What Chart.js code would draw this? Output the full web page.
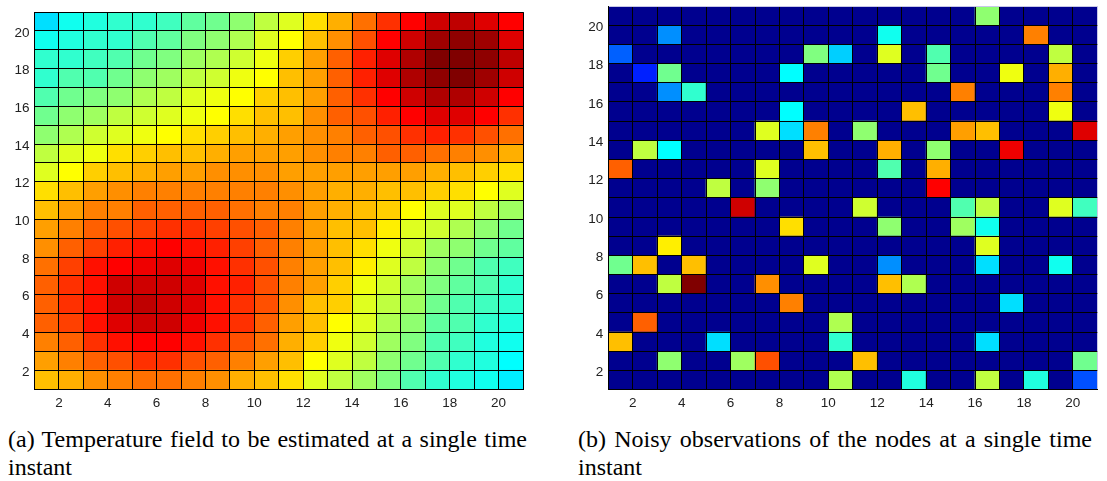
<!DOCTYPE html>
<html>
<head>
<meta charset="utf-8">
<script src="https://cdn.jsdelivr.net/npm/chart.js@4.4.1/dist/chart.umd.min.js"></script>
<style>
  body { margin: 0; background: #fff; width: 1107px; height: 481px; overflow: hidden; position: relative; }
  .box { position: absolute; }
  .cap { position: absolute; font-size: 24px; line-height: 28px; color: #000; }
  .l1 { text-align: justify; text-align-last: justify; }
</style>
</head>
<body>

<div class="box" id="leftBox" style="left:0px; top:-1px; width:540px; height:421px;"><canvas id="leftChart"></canvas></div>
<div class="box" id="rightBox" style="left:570px; top:-7px; width:537px; height:428px;"><canvas id="rightChart"></canvas></div>

<div class="cap" style="left:8px; top:425px; width:519px; font-family:'Liberation Serif','Times New Roman','DejaVu Serif',serif;">
  <div class="l1">(a) Temperature field to be estimated at a single time</div>
  <div>instant</div>
</div>
<div class="cap" style="left:578px; top:425px; width:514px; font-family:'Liberation Serif','Times New Roman','DejaVu Serif',serif;">
  <div class="l1">(b) Noisy observations of the nodes at a single time</div>
  <div>instant</div>
</div>

<script>
// tick labels shown on both axes
const xTicks = [2, 4, 6, 8, 10, 12, 14, 16, 18, 20];
const yTicks = [2, 4, 6, 8, 10, 12, 14, 16, 18, 20];

// grid runs from 1 to 21 (20 x 20 cells)
const gridMin = 1;
const gridMax = 21;

// (a) temperature field, colour index 0..1 (jet), first row is y = 20..21, last row y = 1..2
const temperatureField = [
  [.34, .375, .39, .41, .42, .43, .46, .48, .51, .56, .59, .655, .70, .755, .825, .875, .925, .94, .91, .87],
  [.375, .39, .41, .42, .44, .46, .49, .51, .54, .58, .625, .675, .73, .80, .875, .925, .97, .99, .97, .91],
  [.41, .42, .43, .45, .47, .49, .52, .545, .57, .605, .66, .71, .77, .835, .905, .96, 1.0, 1.0, .985, .94],
  [.42, .44, .45, .48, .50, .52, .55, .57, .60, .625, .675, .72, .77, .835, .905, .96, .985, 1.0, .97, .925],
  [.45, .48, .49, .51, .54, .56, .58, .60, .625, .66, .69, .72, .77, .83, .875, .925, .96, .96, .925, .875],
  [.48, .51, .53, .55, .57, .59, .61, .625, .65, .68, .69, .73, .77, .80, .845, .875, .90, .90, .875, .825],
  [.51, .54, .57, .59, .61, .625, .65, .66, .68, .70, .71, .73, .75, .78, .80, .83, .835, .83, .80, .765],
  [.56, .59, .61, .65, .67, .68, .69, .70, .71, .71, .71, .73, .74, .75, .77, .77, .765, .75, .73, .70],
  [.59, .625, .66, .68, .70, .71, .72, .73, .73, .73, .72, .72, .72, .72, .72, .71, .70, .68, .67, .645],
  [.65, .68, .71, .73, .74, .75, .75, .75, .75, .74, .73, .72, .70, .70, .68, .68, .66, .65, .625, .59],
  [.68, .71, .74, .75, .77, .78, .78, .77, .765, .75, .74, .72, .70, .68, .66, .625, .59, .58, .55, .52],
  [.71, .75, .77, .80, .815, .82, .82, .81, .79, .77, .745, .72, .69, .675, .63, .59, .57, .54, .51, .48],
  [.73, .77, .815, .845, .865, .87, .865, .845, .815, .78, .745, .71, .69, .655, .605, .57, .53, .50, .48, .46],
  [.76, .81, .85, .875, .895, .905, .895, .865, .83, .79, .745, .71, .68, .635, .59, .55, .51, .48, .45, .43],
  [.78, .82, .86, .915, .925, .92, .905, .865, .835, .79, .74, .71, .67, .605, .57, .53, .49, .46, .44, .42],
  [.78, .82, .86, .915, .93, .925, .905, .865, .83, .79, .73, .69, .66, .59, .555, .52, .48, .45, .43, .41],
  [.77, .81, .85, .905, .92, .92, .89, .855, .82, .78, .72, .68, .625, .58, .54, .50, .46, .44, .41, .39],
  [.745, .78, .82, .85, .87, .87, .855, .83, .79, .76, .70, .66, .61, .57, .52, .49, .45, .43, .40, .38],
  [.71, .745, .78, .80, .82, .82, .80, .78, .745, .72, .68, .625, .59, .55, .51, .48, .44, .42, .39, .37],
  [.68, .70, .73, .745, .765, .765, .75, .73, .70, .675, .655, .59, .56, .53, .49, .45, .42, .40, .375, .35]
];

// (b) noisy observations, same layout, 0 = no reading (dark blue)
const observations = [
  [0, 0, 0, 0, 0, 0, 0, 0, 0, 0, 0, 0, 0, 0, 0, .51, 0, 0, 0, 0],
  [0, 0, .25, 0, 0, 0, 0, 0, 0, 0, 0, .385, 0, 0, 0, 0, 0, .74, 0, 0],
  [.21, 0, 0, 0, 0, 0, 0, 0, .49, .325, 0, .58, 0, .44, 0, 0, 0, 0, .56, 0],
  [0, .145, .48, 0, 0, 0, 0, .36, 0, 0, 0, 0, 0, .47, 0, 0, .61, 0, .70, 0],
  [0, 0, .26, .42, 0, 0, 0, 0, 0, 0, 0, 0, 0, 0, .75, 0, 0, 0, .75, 0],
  [0, 0, 0, 0, 0, 0, 0, .36, 0, 0, 0, 0, .69, 0, 0, 0, 0, 0, .61, 0],
  [0, 0, 0, 0, 0, 0, .59, .33, .74, 0, .50, 0, 0, 0, .72, .69, 0, 0, 0, .91],
  [0, .55, .36, 0, 0, 0, 0, 0, .69, 0, 0, .70, 0, .50, 0, 0, .895, 0, 0, 0],
  [.77, 0, 0, 0, 0, 0, .58, 0, 0, 0, 0, .45, 0, .70, 0, 0, 0, 0, 0, 0],
  [0, 0, 0, 0, .55, 0, .51, 0, 0, 0, 0, 0, 0, .875, 0, 0, 0, 0, 0, 0],
  [0, 0, 0, 0, 0, .925, 0, 0, 0, 0, .57, 0, 0, 0, .44, .55, 0, 0, .59, .43],
  [0, 0, 0, 0, 0, 0, 0, .645, 0, 0, 0, .51, 0, 0, .53, .375, 0, 0, 0, 0],
  [0, 0, .64, 0, 0, 0, 0, 0, 0, 0, 0, 0, 0, 0, 0, .58, 0, 0, 0, 0],
  [.47, .69, 0, .675, 0, 0, 0, 0, .58, 0, 0, .26, 0, 0, 0, .33, 0, 0, .375, 0],
  [0, 0, .56, 1, 0, 0, .73, 0, 0, 0, 0, .69, .54, 0, 0, 0, 0, 0, 0, 0],
  [0, 0, 0, 0, 0, 0, 0, .75, 0, 0, 0, 0, 0, 0, 0, 0, .33, 0, 0, 0],
  [0, .77, 0, 0, 0, 0, 0, 0, 0, .54, 0, 0, 0, 0, 0, 0, 0, 0, 0, 0],
  [.675, 0, 0, 0, .34, 0, 0, 0, 0, .41, 0, 0, 0, 0, 0, .33, 0, 0, 0, 0],
  [0, 0, .51, 0, 0, .52, .80, 0, 0, 0, .675, 0, 0, 0, 0, 0, 0, 0, 0, .47],
  [0, 0, 0, 0, 0, 0, 0, 0, 0, .54, 0, 0, .39, 0, 0, .56, 0, .39, 0, .185]
];

// MATLAB jet(64)
function jet(v) {
    var i = Math.round(Math.max(0, Math.min(1, v)) * 63) + 1;
    var u = function (k) {
        if (k >= 1 && k <= 16) return k / 16;
        if (k >= 17 && k <= 31) return 1;
        if (k >= 32 && k <= 47) return (48 - k) / 16;
        return 0;
    };
    var r = Math.round(u(i - 24) * 255);
    var g = Math.round(u(i - 8) * 255);
    var b = Math.round(u(i + 8) * 255);
    return `rgb(${r},${g},${b})`;
}

function gridValues() {
    var vals = [];
    for (var v = gridMin; v <= gridMax; v++) vals.push(v);
    return vals;
}

function heatmap(canvasId, rows, opts) {
    // one floating bar per cell
    var cells = [];
    rows.forEach((row, r) => {
        var y = gridMax - 1 - r;
        row.forEach((v, c) => {
            cells.push({ x: gridMin + c + 0.5, y: [y, y + 1], v: v });
        });
    });

    var lineColor = function (ctx) {
        if (ctx.tick && ctx.tick.value === gridMax) return opts.edgeColor;
        return '#000';
    };
    var tickFont = { family: 'Liberation Sans, Arial, sans-serif', size: 13.5 };

    var ctx = document.getElementById(canvasId).getContext('2d');
    return new Chart(ctx, {
        type: 'bar',
        data: {
            datasets: [{
                data: cells,
                backgroundColor: (c) => c.raw ? jet(c.raw.v) : '#000',
                borderWidth: 0,
                barPercentage: 1,
                categoryPercentage: 1,
                grouped: false
            }]
        },
        options: {
            responsive: true,
            maintainAspectRatio: false,
            animation: false,
            devicePixelRatio: 1,
            layout: { padding: { left: 0, top: 12, right: opts.padRight, bottom: 0 } },
            plugins: { legend: { display: false }, tooltip: { enabled: false } },
            scales: {
                x: {
                    type: 'linear', min: gridMin, max: gridMax, offset: false,
                    afterBuildTicks: (s) => { s.ticks = gridValues().map(v => ({ value: v })); },
                    afterFit: (s) => { s.height = opts.xHeight; },
                    grid: { offset: false, z: 1, color: lineColor, lineWidth: 1, drawTicks: false },
                    border: { display: true, z: 2, color: '#000', width: 1 },
                    ticks: {
                        autoSkip: false, maxRotation: 0, minRotation: 0, padding: 6,
                        color: '#222', font: tickFont,
                        callback: (v) => xTicks.includes(v) ? String(v) : ''
                    }
                },
                y: {
                    type: 'linear', min: gridMin, max: gridMax, offset: false, stacked: false,
                    afterBuildTicks: (s) => { s.ticks = gridValues().map(v => ({ value: v })); },
                    afterFit: (s) => { s.width = opts.yWidth; },
                    grid: { offset: false, z: 1, color: lineColor, lineWidth: 1, drawTicks: false },
                    border: { display: true, z: 2, color: '#000', width: 1 },
                    ticks: {
                        autoSkip: false, padding: 5, labelOffset: 2,
                        color: '#222', font: tickFont,
                        callback: (v) => yTicks.includes(v) ? String(v) : ''
                    }
                }
            }
        }
    });
}

heatmap('leftChart', temperatureField, { yWidth: 34.5, xHeight: 31, padRight: 17, edgeColor: '#000' });
heatmap('rightChart', observations, { yWidth: 38.3, xHeight: 31.4, padRight: 9.7, edgeColor: '#c8c8e8' });
</script>
</body>
</html>
